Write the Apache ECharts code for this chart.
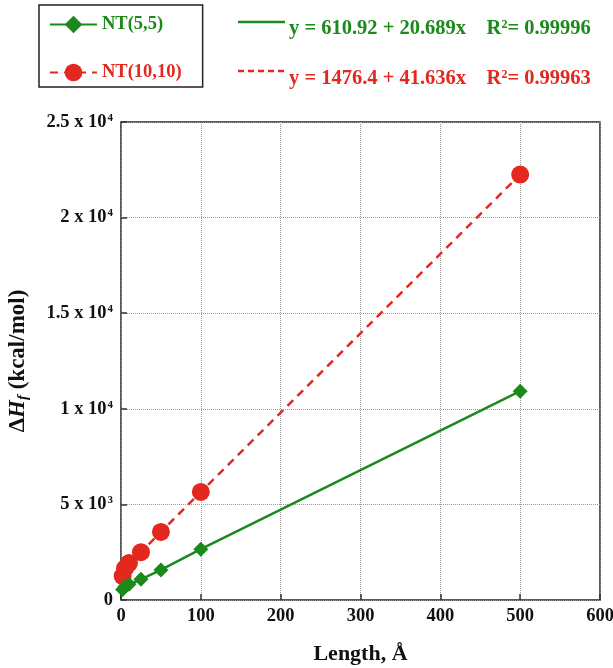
<!DOCTYPE html>
<html>
<head>
<meta charset="utf-8">
<script src="https://cdn.jsdelivr.net/npm/echarts@6/dist/echarts.min.js"></script>
<style>html,body{margin:0;padding:0;background:#fff}#c{width:613px;height:668px}</style>
</head>
<body>
<div id="c"></div>
<script>
// Data
var lengths = [2, 5, 10, 25, 50, 100, 500];
var nt55 = [550, 700, 820, 1080, 1570, 2660, 10920];
var nt1010 = [1250, 1660, 1930, 2500, 3560, 5650, 22250];
var seriesNames = ['NT(5,5)', 'NT(10,10)'];
var fitTexts = [
  ['y = 610.92 + 20.689x    R', '2', '= 0.99996'],
  ['y = 1476.4 + 41.636x    R', '2', '= 0.99963']
];
var xTicks = [0, 100, 200, 300, 400, 500, 600];
var yTickLabels = [['0', ''], ['5 x 10', '3'], ['1 x 10', '4'], ['1.5 x 10', '4'], ['2 x 10', '4'], ['2.5 x 10', '4']];

var GREEN = '#1b8a1b', RED = '#e2281f';
var FONT = '"Liberation Serif", "Times New Roman", serif';

function pair(xs, ys) { return xs.map(function (x, i) { return [x, ys[i]]; }); }

var chart = echarts.init(document.getElementById('c'));
chart.setOption({
  backgroundColor: '#fff',
  animation: false,
  grid: { left: 121, right: 13, top: 122, bottom: 68, outerBoundsMode: 'none', containLabel: false,
    show: true, borderColor: '#222', borderWidth: 1.5, backgroundColor: 'transparent' },
  legend: {
    orient: 'vertical', left: 39, top: 5,
    padding: [10, 21, 5, 10],
    borderColor: '#222', borderWidth: 1.5,
    itemWidth: 47, itemHeight: 22, itemGap: 29,
    data: [
      { name: seriesNames[0], textStyle: { color: GREEN } },
      { name: seriesNames[1], textStyle: { color: RED } }
    ],
    textStyle: { fontFamily: FONT, fontWeight: 'bold', fontSize: 18.5 }
  },
  xAxis: {
    type: 'value', min: 0, max: 600, interval: 100,
    name: 'Length, Å', nameLocation: 'middle', nameGap: 43,
    nameTextStyle: { fontFamily: FONT, fontWeight: 'bold', fontSize: 22, color: '#111' },
    axisLine: { show: false },
    axisTick: { show: true, inside: true, length: 6, lineStyle: { color: '#333', width: 1.5 } },
    axisLabel: { fontFamily: FONT, fontWeight: 'bold', fontSize: 18.5, color: '#111', margin: 7,
      formatter: function (v) { return xTicks.indexOf(v) >= 0 ? String(v) : ''; } },
    splitLine: { show: true, lineStyle: { color: '#999', type: 'dotted', width: 1 } }
  },
  yAxis: {
    type: 'value', min: 0, max: 25000, interval: 5000,
    name: '{d|Δ}{h|H}{f|f}{n| (kcal/mol)}', nameLocation: 'middle', nameGap: 90, nameRotate: 90,
    nameTextStyle: {
      fontFamily: FONT, fontWeight: 'bold', fontSize: 23, color: '#111',
      rich: {
        d: { fontFamily: FONT, fontWeight: 'bold', fontSize: 23, color: '#111' },
        h: { fontFamily: FONT, fontWeight: 'bold', fontSize: 23, fontStyle: 'italic', color: '#111' },
        f: { fontFamily: FONT, fontWeight: 'bold', fontSize: 15, fontStyle: 'italic', color: '#111', verticalAlign: 'bottom', padding: [10, 0, 0, 0] },
        n: { fontFamily: FONT, fontWeight: 'bold', fontSize: 23, color: '#111' }
      }
    },
    axisLine: { show: false },
    axisTick: { show: true, inside: true, length: 6, lineStyle: { color: '#333', width: 1.5 } },
    axisLabel: {
      margin: 8,
      formatter: function (v) {
        var i = Math.round(v / 5000);
        var t = yTickLabels[i];
        if (!t) return '';
        return t[1] ? '{m|' + t[0] + '}{s|' + t[1] + '}' : '{m|' + t[0] + '}';
      },
      rich: {
        m: { fontFamily: FONT, fontWeight: 'bold', fontSize: 18.5, color: '#111' },
        s: { fontFamily: FONT, fontWeight: 'bold', fontSize: 11, color: '#111', verticalAlign: 'top', padding: [0, 0, 8, 1] }
      }
    },
    splitLine: { show: true, lineStyle: { color: '#999', type: 'dotted', width: 1 } }
  },
  series: [
    {
      name: seriesNames[0], type: 'line', data: pair(lengths, nt55),
      symbol: 'diamond', symbolSize: 15,
      itemStyle: { color: GREEN },
      lineStyle: { color: GREEN, width: 2.5, type: 'solid' }, z: 3
    },
    {
      name: seriesNames[1], type: 'line', data: pair(lengths, nt1010),
      symbol: 'circle', symbolSize: 18,
      itemStyle: { color: RED },
      lineStyle: { color: RED, width: 2.5, type: [8, 6] }, z: 2
    }
  ],
  graphic: [
    { type: 'line', shape: { x1: 238, y1: 22, x2: 285, y2: 22 }, style: { stroke: GREEN, lineWidth: 2.5 } },
    { type: 'line', shape: { x1: 238, y1: 71, x2: 285, y2: 71 }, style: { stroke: RED, lineWidth: 2.5, lineDash: [6, 4] } },
    { type: 'text', x: 289, y: 29, style: {
        verticalAlign: 'middle',
        text: '{a|' + fitTexts[0][0] + '}{s|' + fitTexts[0][1] + '}{a|' + fitTexts[0][2] + '}',
        rich: { a: { fontFamily: FONT, fontWeight: 'bold', fontSize: 20.5, fill: GREEN }, s: { fontFamily: FONT, fontWeight: 'bold', fontSize: 12, fill: GREEN, verticalAlign: 'top', padding: [0, 0, 8, 0] } }
      } },
    { type: 'text', x: 289, y: 79, style: {
        verticalAlign: 'middle',
        text: '{a|' + fitTexts[1][0] + '}{s|' + fitTexts[1][1] + '}{a|' + fitTexts[1][2] + '}',
        rich: { a: { fontFamily: FONT, fontWeight: 'bold', fontSize: 20.5, fill: RED }, s: { fontFamily: FONT, fontWeight: 'bold', fontSize: 12, fill: RED, verticalAlign: 'top', padding: [0, 0, 8, 0] } }
      } }
  ]
});
</script>
</body>
</html>
